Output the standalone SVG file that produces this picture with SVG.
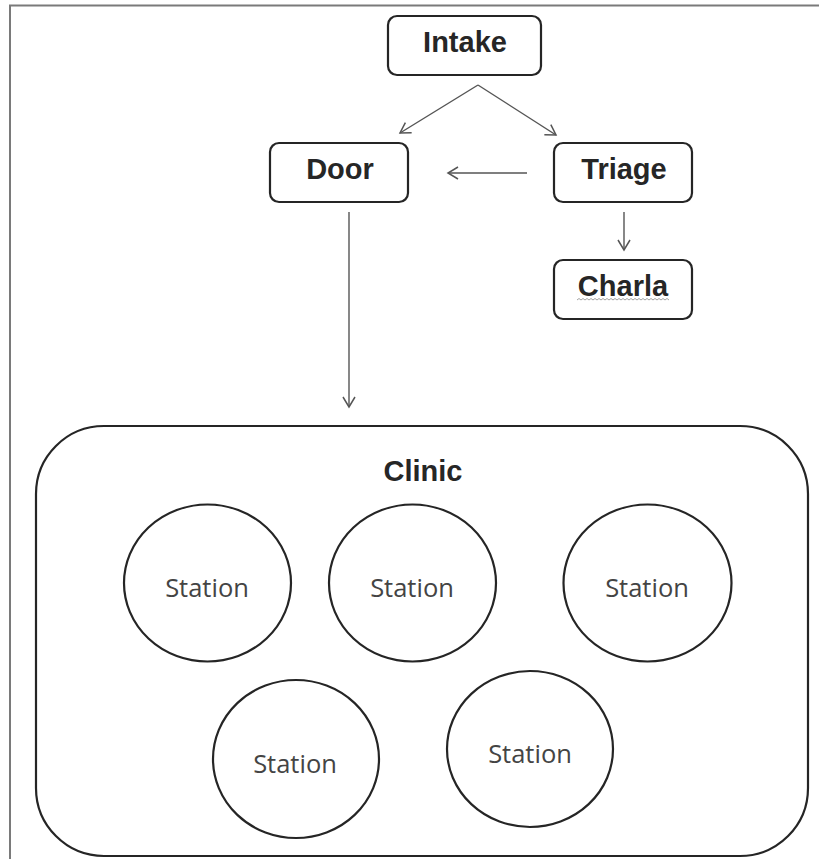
<svg xmlns="http://www.w3.org/2000/svg" width="819" height="859" viewBox="0 0 819 859">
<style>
.box{fill:#fff;stroke:#252525;stroke-width:2.2}
.lbl{font-family:"Liberation Sans",Arial,sans-serif;font-weight:bold;font-size:29px;fill:#262626;text-anchor:middle}
.st{font-family:"Open Sans","Liberation Sans",sans-serif;font-size:25.5px;fill:#444;text-anchor:middle}
.cn{fill:none;stroke:#555;stroke-width:1.4}
.frame{fill:none;stroke:#7a7a7a;stroke-width:2}
</style>
<defs>
<marker id="arr" markerWidth="14" markerHeight="14" refX="11" refY="7" orient="auto" markerUnits="userSpaceOnUse">
<path d="M1,1 L11,7 L1,13" fill="none" stroke="#555" stroke-width="1.5"/>
</marker>
</defs>
<rect width="819" height="859" fill="#fff"/>
<path class="frame" d="M10,859 V5.5 H819"/>
<g id="intake"><rect class="box" x="388" y="16" width="153" height="59" rx="9"/><text class="lbl" x="465" y="52">Intake</text></g>
<g id="door"><rect class="box" x="270" y="143" width="138" height="59" rx="9"/><text class="lbl" x="340" y="179">Door</text></g>
<g id="triage"><rect class="box" x="554" y="143" width="138" height="59" rx="9"/><text class="lbl" x="624" y="179">Triage</text></g>
<g id="charla"><rect class="box" x="554" y="260" width="138" height="59" rx="9"/><text class="lbl" x="623" y="296">Charla</text>
<path d="M577,300 l2,-1.5 l2,1.5 l2,-1.5 l2,1.5 l2,-1.5 l2,1.5 l2,-1.5 l2,1.5 l2,-1.5 l2,1.5 l2,-1.5 l2,1.5 l2,-1.5 l2,1.5 l2,-1.5 l2,1.5 l2,-1.5 l2,1.5 l2,-1.5 l2,1.5 l2,-1.5 l2,1.5 l2,-1.5 l2,1.5 l2,-1.5 l2,1.5 l2,-1.5 l2,1.5 l2,-1.5 l2,1.5 l2,-1.5 l2,1.5 l2,-1.5 l2,1.5 l2,-1.5 l2,1.5 l2,-1.5 l2,1.5 l2,-1.5 l2,1.5 l2,-1.5 l2,1.5 l2,-1.5 l2,1.5 l2,-1.5 l2,1.5" fill="none" stroke="#999" stroke-width="0.9"/></g>
<g id="clinic"><rect class="box" x="36" y="426" width="772" height="430" rx="68" stroke-width="2.6"/><text class="lbl" x="423" y="481">Clinic</text></g>
<g id="station1"><ellipse class="box" cx="207.5" cy="583" rx="83.5" ry="78.5"/><text class="st" x="207" y="597">Station</text></g>
<g id="station2"><ellipse class="box" cx="412.5" cy="583" rx="83.5" ry="78.5"/><text class="st" x="412" y="597">Station</text></g>
<g id="station3"><ellipse class="box" cx="647.5" cy="583" rx="84" ry="78.5"/><text class="st" x="647" y="597">Station</text></g>
<g id="station4"><ellipse class="box" cx="296" cy="759" rx="83" ry="79"/><text class="st" x="295" y="773">Station</text></g>
<g id="station5"><ellipse class="box" cx="530" cy="749" rx="83" ry="78"/><text class="st" x="530" y="763">Station</text></g>
<g id="connectors">
<path class="cn" d="M478,85 L400,133" marker-end="url(#arr)"/>
<path class="cn" d="M478,85 L556,135" marker-end="url(#arr)"/>
<path class="cn" d="M527,173 L448,173" marker-end="url(#arr)"/>
<path class="cn" d="M624,212 L624,250" marker-end="url(#arr)"/>
<path class="cn" d="M349,212 L349,407" marker-end="url(#arr)"/>
</g>
</svg>
